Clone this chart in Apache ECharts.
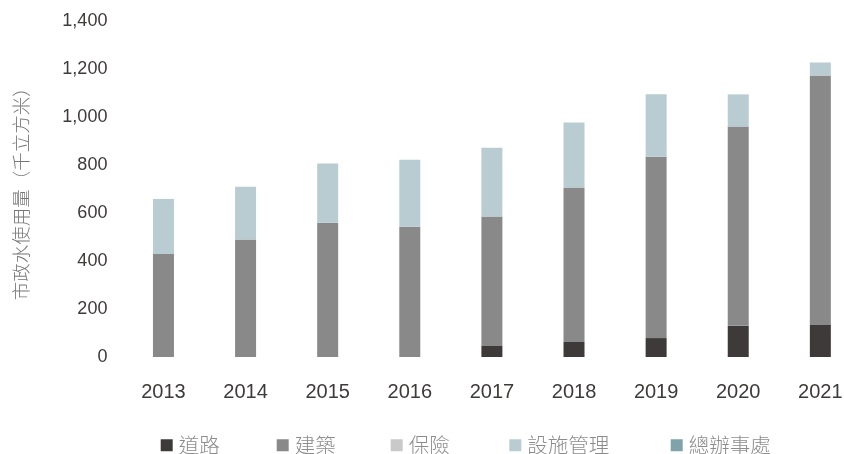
<!DOCTYPE html>
<html>
<head>
<meta charset="utf-8">
<script src="https://cdn.jsdelivr.net/npm/echarts@6/dist/echarts.min.js"></script>
<style>
html,body{margin:0;padding:0;background:#fff;overflow:hidden;width:844px;height:454px;}
#chart{width:880px;height:454px;}
</style>
</head>
<body>
<div id="chart"></div>
<script>
var years = ['2013','2014','2015','2016','2017','2018','2019','2020','2021'];
var seriesNames = ['道路','建築','保險','設施管理','總辦事處'];
var roadValues = [0,0,0,0,46,63,79,130,134];
var buildingValues = [430,490,560,543,540,644,757,832,1041];
var insuranceValues = [0,0,0,0,0,0,0,0,0];
var facilityValues = [229,220,247,280,287,272,260,134,54];
var headOfficeValues = [0,0,0,0,0,0,0,0,0];
var yTicks = [0,200,400,600,800,1000,1200,1400];
var yAxisTitle = '市政水使用量（千立方米）';

var colors = ['#3e3a39','#898989','#c9c9c9','#b9ccd2','#7fa3aa'];
var dataSets = [roadValues, buildingValues, insuranceValues, facilityValues, headOfficeValues];
var legendLefts = [160.7, 276.7, 390.7, 509.3, 670.7];

var latin = '"Liberation Sans", Arial, sans-serif';
var cjk = '"Noto Sans CJK TC", "Noto Sans CJK SC", sans-serif';

var chart = echarts.init(document.getElementById('chart'), null, {renderer:'canvas'});
chart.setOption({
  animation:false,
  color: colors,
  grid:{left:122.4, top:21.5, width:739, height:335.5, containLabel:false},
  legend: seriesNames.map(function(n,i){
    return {
      data:[n],
      left:legendLefts[i], top:435,
      padding:0,
      itemWidth:12, itemHeight:12,
      icon:'rect',
      textStyle:{fontFamily:cjk, fontSize:20.5, color:'#8c8c8c', fontWeight:300, padding:[0,0,0,1]}
    };
  }),
  xAxis:{
    type:'category',
    data: years,
    axisLine:{show:false},
    axisTick:{show:false},
    axisLabel:{margin:25, fontSize:20, fontFamily:latin, color:'#3e3a39'}
  },
  yAxis:{
    type:'value',
    min:yTicks[0], max:yTicks[yTicks.length-1], interval:200,
    name: yAxisTitle,
    nameLocation:'middle',
    nameRotate:90,
    nameGap:92,
    nameTextStyle:{fontFamily:cjk, fontSize:18.5, color:'#777', fontWeight:300},
    axisLine:{show:false},
    axisTick:{show:false},
    splitLine:{show:false},
    axisLabel:{
      margin:15, fontSize:18, fontFamily:latin, color:'#3e3a39',
      formatter:function(v){return v.toLocaleString('en-US');}
    }
  },
  series: seriesNames.map(function(n,i){
    return {name:n, type:'bar', stack:'total', barWidth:21, data:dataSets[i],
            itemStyle:{color:colors[i]}};
  })
});
</script>
</body>
</html>
